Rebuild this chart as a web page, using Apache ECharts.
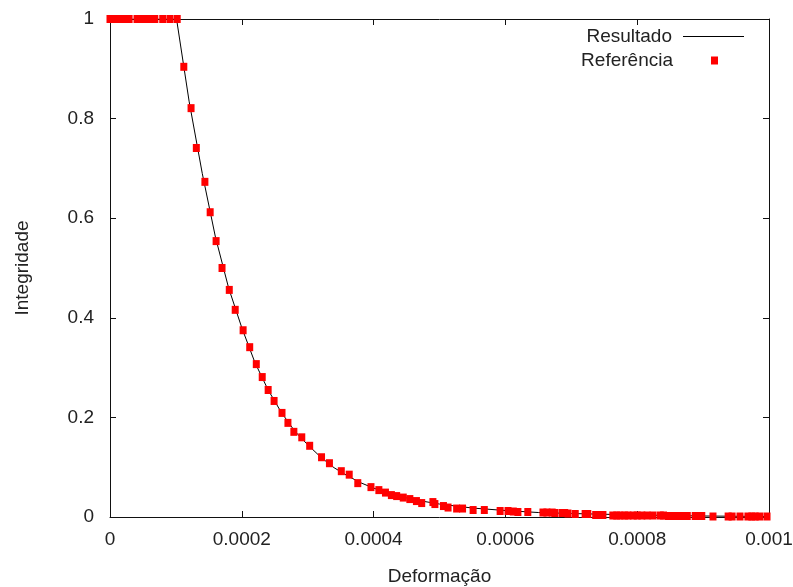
<!DOCTYPE html>
<html>
<head>
<meta charset="utf-8">
<script src="https://cdn.jsdelivr.net/npm/echarts@6/dist/echarts.min.js"></script>
<style>html,body{margin:0;padding:0;background:#fff}#c{width:793px;height:587px}</style>
</head>
<body>
<div id="c"></div>
<script>
// Reference points (Referência)
const refX = [0, 0.000006, 0.000012, 0.000018, 0.000024, 0.000029, 0.000041, 0.000047, 0.000053, 0.000059, 0.000068, 0.000080, 0.000091, 0.000102,
  0.000112, 0.000123, 0.000131, 0.000144, 0.000152, 0.000161, 0.000170, 0.000181, 0.000190, 0.000202,
  0.000212, 0.000222, 0.000231, 0.000240, 0.000249, 0.000261, 0.000270, 0.000279, 0.000291, 0.000303,
  0.000321, 0.000333, 0.000351, 0.000363, 0.000376, 0.000396, 0.000408, 0.000418, 0.000427, 0.000435,
  0.000445, 0.000455, 0.000465, 0.000473, 0.000490, 0.000493, 0.000506, 0.000513, 0.000526, 0.000535,
  0.000551, 0.000568, 0.000592, 0.000604, 0.000612, 0.000619, 0.000634, 0.000657, 0.000663, 0.000671,
  0.000675, 0.000686, 0.000690, 0.000695, 0.000706, 0.000721, 0.000725, 0.000737, 0.000744, 0.000748,
  0.000763, 0.000769, 0.000774, 0.000781, 0.000786, 0.000794, 0.000800, 0.000807, 0.000815, 0.000824,
  0.000835, 0.000840, 0.000847, 0.000854, 0.000862, 0.000870, 0.000876, 0.000888, 0.000892, 0.000898,
  0.000915, 0.000938, 0.000944, 0.000956, 0.000968, 0.000974, 0.000979, 0.000986, 0.000997];
const refY = [1, 1, 1, 1, 1, 1, 1, 1, 1, 1, 1, 1, 1, 1,
  0.904, 0.821, 0.741, 0.673, 0.612, 0.554, 0.500, 0.456, 0.416, 0.375,
  0.341, 0.307, 0.281, 0.255, 0.233, 0.209, 0.189, 0.171, 0.160, 0.143,
  0.120, 0.108, 0.092, 0.085, 0.068, 0.060, 0.054, 0.049, 0.044, 0.042,
  0.039, 0.036, 0.032, 0.028, 0.030, 0.026, 0.022, 0.019, 0.017, 0.017,
  0.014, 0.014, 0.012, 0.012, 0.011, 0.010, 0.010, 0.009, 0.009, 0.009,
  0.008, 0.008, 0.008, 0.007, 0.006, 0.006, 0.006, 0.004, 0.004, 0.004,
  0.003, 0.003, 0.003, 0.003, 0.003, 0.003, 0.003, 0.003, 0.003, 0.003,
  0.003, 0.003, 0.002, 0.002, 0.002, 0.002, 0.002, 0.002, 0.002, 0.002,
  0.001, 0.001, 0.001, 0.001, 0.001, 0.001, 0.001, 0.001, 0.001];
// Computed result curve (Resultado)
const resX = [0, 0.000101, 0.00012, 0.00014, 0.00016, 0.00018, 0.0002, 0.00022, 0.00024, 0.00026, 0.00028, 0.0003,
  0.00032, 0.00034, 0.00036, 0.00038, 0.0004, 0.00043, 0.00046, 0.0005, 0.00055, 0.0006, 0.00065, 0.0007, 0.0008, 0.0009, 0.001];
const resY = [1, 1, 0.835, 0.69, 0.562, 0.46, 0.38, 0.31, 0.255, 0.21, 0.173, 0.145,
  0.12, 0.099, 0.083, 0.069, 0.058, 0.045, 0.035, 0.026, 0.018, 0.013, 0.009, 0.007, 0.004, 0.002, 0.001];
const xTicks = { min: 0, max: 0.001, interval: 0.0002 };
const yTicks = { min: 0, max: 1, interval: 0.2 };

const FONT = '"Liberation Sans", Arial, sans-serif';
const TXT = '#222';
const chart = echarts.init(document.getElementById('c'), null, { renderer: 'canvas' });
const axisLine = { show: true, onZero: false, lineStyle: { color: '#111', width: 1 } };
const tick = { show: true, inside: true, length: 6, lineStyle: { color: '#111', width: 1 } };
chart.setOption({
  animation: false,
  backgroundColor: '#fff',
  grid: { left: 110, right: 24, top: 19, bottom: 70, containLabel: false, outerBoundsMode: 'none' },
  legend: [
    { data: [{ name: 'Resultado', icon: 'rect' }], right: 49, top: 27, padding: 0, align: 'right', itemWidth: 61, itemHeight: 1,
      itemStyle: { color: '#000' },
      textStyle: { fontFamily: FONT, fontSize: 19, color: TXT, padding: [0, 6, 0, 0] }, selectedMode: false },
    { data: ['Referência'], right: 75, top: 51, padding: 0, align: 'right', itemWidth: 7, itemHeight: 8,
      itemStyle: { opacity: 1 },
      textStyle: { fontFamily: FONT, fontSize: 19, color: TXT, padding: [0, 33, 0, 0] }, selectedMode: false }
  ],
  xAxis: [
    { type: 'value', min: xTicks.min, max: xTicks.max, interval: xTicks.interval, position: 'bottom',
      name: 'Deformação', nameLocation: 'middle', nameGap: 50,
      nameTextStyle: { fontFamily: FONT, fontSize: 19, color: TXT },
      axisLine, axisTick: tick, splitLine: { show: false },
      axisLabel: { fontFamily: FONT, fontSize: 19, color: TXT, margin: 13 } },
    { type: 'value', min: xTicks.min, max: xTicks.max, interval: xTicks.interval, position: 'top',
      axisLine, axisTick: tick, splitLine: { show: false }, axisLabel: { show: false } }
  ],
  yAxis: [
    { type: 'value', min: yTicks.min, max: yTicks.max, interval: yTicks.interval, position: 'left',
      name: 'Integridade', nameLocation: 'middle', nameGap: 78, nameRotate: 90,
      nameTextStyle: { fontFamily: FONT, fontSize: 19, color: TXT },
      axisLine, axisTick: tick, splitLine: { show: false },
      axisLabel: { fontFamily: FONT, fontSize: 19, color: TXT, margin: 16 } },
    { type: 'value', min: yTicks.min, max: yTicks.max, interval: yTicks.interval, position: 'right',
      axisLine, axisTick: tick, splitLine: { show: false }, axisLabel: { show: false } }
  ],
  series: [
    { name: 'Resultado', type: 'line', data: resX.map((x, i) => [x, resY[i]]),
      symbol: 'none', showSymbol: false, lineStyle: { color: '#000', width: 1 }, itemStyle: { color: '#000' }, z: 2 },
    { name: 'Referência', type: 'scatter', data: refX.map((x, i) => [x, refY[i]]),
      symbol: 'rect', symbolSize: [7, 8], itemStyle: { color: '#ff0000', opacity: 1 }, z: 3 }
  ]
});
</script>
</body>
</html>
